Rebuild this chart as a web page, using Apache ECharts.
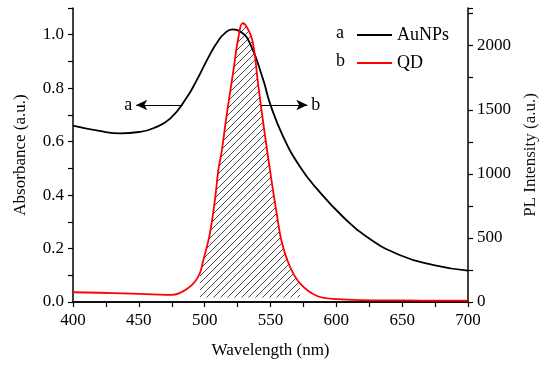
<!DOCTYPE html>
<html>
<head>
<meta charset="utf-8">
<script src="https://cdn.jsdelivr.net/npm/echarts@6/dist/echarts.min.js"></script>
<style>html,body{margin:0;padding:0;background:#fff}#c{width:550px;height:365px}</style>
</head>
<body>
<div id="c"></div>
<script>
// Absorbance of AuNPs: [wavelength nm, absorbance a.u.]
var auNPs = [
  [400,0.660],[420,0.640],[436,0.631],[450,0.636],[461,0.650],[474,0.687],[486,0.762],
  [494,0.830],[500,0.888],[505,0.935],[510,0.975],[515,1.004],[521,1.020],[527,1.012],
  [534.4,0.968],[544.5,0.831],[549.6,0.743],[559.7,0.618],[572.4,0.506],[585,0.425],
  [605,0.319],[623,0.244],[648,0.176],[674,0.138],[700,0.117]
];
// PL intensity of QD: [wavelength nm, PL intensity a.u.]
var qd = [
  [400,76],[430,70],[460,60],[475,55],[481,70],[487,105],[492.6,158],[496.4,226],[499,328],
  [501,405],[504,536],[507.8,796],[510.4,1030],[512.9,1173],[516.7,1459],[521.7,1797],
  [525.5,2058],[528.8,2175],[532,2145],[536.5,2030],[540.7,1690],[545.8,1300],[550.9,940],
  [554.7,692],[558.5,470],[564.8,275],[572.4,146],[585,49],[600,23],[650,12],[700,10]
];
var overlapRange = [496, 573];
var xTicks = [400,450,500,550,600,650,700];
var leftTicks = [0.0,0.2,0.4,0.6,0.8,1.0];
var rightTicks = [0,500,1000,1500,2000];

var hatch = qd.filter(function(p){return p[0]>=overlapRange[0] && p[0]<=overlapRange[1];});

var pc = document.createElement('canvas');
pc.width = 7; pc.height = 7;
var g = pc.getContext('2d');
g.strokeStyle = '#333';
g.lineWidth = 0.9;
g.beginPath();
g.moveTo(-1,8); g.lineTo(8,-1);
g.moveTo(-1,1); g.lineTo(1,-1);
g.moveTo(6,8); g.lineTo(8,6);
g.stroke();

var FONT = 'Liberation Serif';
var chart = echarts.init(document.getElementById('c'), null, {renderer:'canvas'});
chart.setOption({
  animation:false,
  backgroundColor:'#fff',
  grid:{left:73,right:82,top:8,bottom:63},
  textStyle:{fontFamily:FONT},
  legend:{
    orient:'vertical', left:352, top:20, itemGap:8, itemWidth:35, itemHeight:2, icon:'rect',
    data:['AuNPs','QD'],
    textStyle:{fontFamily:FONT,fontSize:18,color:'#000',lineHeight:20}
  },
  graphic:[
    {type:'text',left:336,top:24,style:{text:'a',font:'18px "Liberation Serif"',fill:'#000'}},
    {type:'text',left:336,top:52,style:{text:'b',font:'18px "Liberation Serif"',fill:'#000'}}
  ],
  xAxis:[{
    type:'value',min:400,max:700,interval:25,
    name:'Wavelength (nm)',nameLocation:'middle',nameGap:40,
    nameTextStyle:{fontFamily:FONT,fontSize:17,color:'#000'},
    axisLine:{show:true,lineStyle:{color:'#000',width:1.5}},
    axisTick:{show:true,inside:false,length:5,lineStyle:{color:'#000',width:1.2}},
    axisLabel:{margin:10,fontFamily:FONT,fontSize:17,color:'#000',
      formatter:function(v){return xTicks.indexOf(v)>=0?String(v):'';}},
    splitLine:{show:false}
  },{
    type:'value',min:400,max:700,position:'top',
    axisLine:{show:true,lineStyle:{color:'#000',width:1.5}},
    axisTick:{show:false},axisLabel:{show:false},splitLine:{show:false}
  }],
  yAxis:[{
    type:'value',min:0,max:1.1,interval:0.1,position:'left',
    name:'Absorbance (a.u.)',nameLocation:'middle',nameGap:44,nameRotate:90,
    nameTextStyle:{fontFamily:FONT,fontSize:17,color:'#000'},
    axisLine:{show:true,lineStyle:{color:'#000',width:1.5}},
    axisTick:{show:true,inside:false,length:5,lineStyle:{color:'#000',width:1.2}},
    axisLabel:{margin:9,fontFamily:FONT,fontSize:17,color:'#000',
      formatter:function(v){var r=Math.round(v*10)/10;
        for(var i=0;i<leftTicks.length;i++){if(Math.abs(leftTicks[i]-r)<1e-6)return r.toFixed(1);} return '';}},
    splitLine:{show:false}
  },{
    type:'value',min:0,max:2294,interval:250,position:'right',
    name:'PL Intensity (a.u.)',nameLocation:'middle',nameGap:53,nameRotate:90,
    nameTextStyle:{fontFamily:FONT,fontSize:17,color:'#1a1014'},
    axisLine:{show:true,lineStyle:{color:'#000',width:1.5}},
    axisTick:{show:true,inside:false,length:5,lineStyle:{color:'#000',width:1.2}},
    axisLabel:{margin:9,fontFamily:FONT,fontSize:17,color:'#000',
      formatter:function(v){return rightTicks.indexOf(v)>=0?String(v):'';}},
    splitLine:{show:false}
  }],
  series:[{
    name:'overlap',type:'line',xAxisIndex:0,yAxisIndex:1,data:hatch,smooth:0.4,
    symbol:'none',lineStyle:{width:0,opacity:0},
    areaStyle:{color:{image:pc,repeat:'repeat'},opacity:1,origin:35},
    silent:true,z:1
  },{
    name:'AuNPs',type:'line',xAxisIndex:0,yAxisIndex:0,data:auNPs,smooth:0.5,
    symbol:'none',color:'#000',lineStyle:{color:'#000',width:1.8},z:3,
    markLine:{
      silent:true,animation:false,symbol:['none','arrow'],symbolSize:[8,11],
      lineStyle:{color:'#000',width:1,type:'solid'},
      label:{show:true,position:'end',fontFamily:FONT,fontSize:18,color:'#000',distance:4},
      data:[
        [{coord:[483,0.737],label:{formatter:'a'}},{coord:[448,0.737]}],
        [{coord:[543,0.737],label:{formatter:'b'}},{coord:[578,0.737]}]
      ]
    }
  },{
    name:'QD',type:'line',xAxisIndex:0,yAxisIndex:1,data:qd,smooth:0.4,
    symbol:'none',color:'#ff0000',lineStyle:{color:'#ff0000',width:1.8},z:4
  }]
});
</script>
</body>
</html>
